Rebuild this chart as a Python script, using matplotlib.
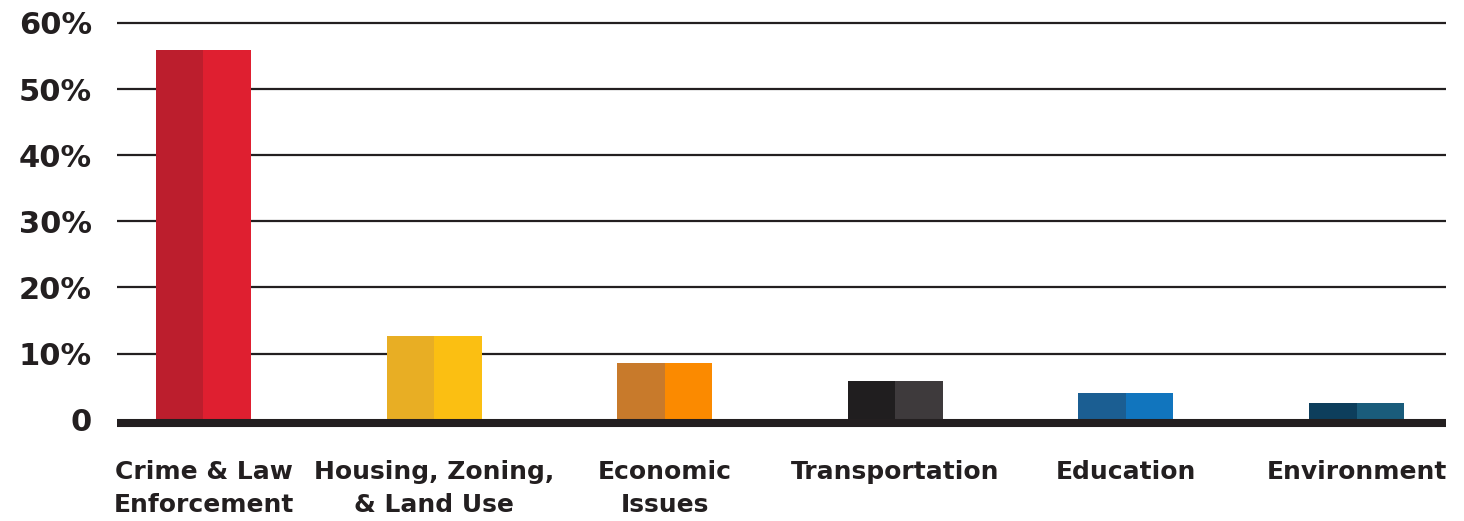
import matplotlib
matplotlib.use("Agg")
import matplotlib.pyplot as plt
import numpy as np

categories = ["Crime & Law\nEnforcement", "Housing, Zoning,\n& Land Use", "Economic\nIssues",
              "Transportation", "Education", "Environment"]
values = [55.9, 12.7, 8.5, 5.9, 4.0, 2.5]
dark_colors = ["#BC1E2D", "#E8AE24", "#C87A2B", "#201E1F", "#1B5E92", "#0D3E5C"]
light_colors = ["#DF1F30", "#FBBF12", "#FB8A00", "#3E3A3C", "#1175BE", "#1A5C7B"]
yticks = [0, 10, 20, 30, 40, 50, 60]
ytick_labels = ["0", "10%", "20%", "30%", "40%", "50%", "60%"]

text_color = "#231F20"
plt.rcParams['font.family'] = ['DejaVu Sans']

fig = plt.figure(figsize=(14.64, 5.21), dpi=100)
ax = fig.add_axes([117/1464, 1-419.6/521, (1446-117)/1464, (419.6-23)/521])

x = np.arange(len(categories))
half = 0.206
ax.bar(x - half/2, values, width=half, color=dark_colors, zorder=2, linewidth=0)
ax.bar(x + half/2, values, width=half, color=light_colors, zorder=2, linewidth=0)

for t in yticks[1:]:
    ax.axhline(t, color=text_color, lw=1.6, zorder=1, clip_on=False, solid_capstyle='butt')
# thick baseline sitting just under zero
ax.axhline(-0.55, color=text_color, lw=5.8, zorder=3, clip_on=False, solid_capstyle='butt')

ax.set_xlim(-0.375, 5.388)
ax.set_ylim(0, 60)
for s in ax.spines.values():
    s.set_visible(False)

ax.set_yticks(yticks)
ax.set_yticklabels(ytick_labels, fontsize=22, fontweight='bold', color=text_color)
ax.tick_params(axis='y', length=0, pad=18)

ax.set_xticks(x)
ax.set_xticklabels(categories, fontsize=18, fontweight='bold', color=text_color,
                   linespacing=1.5, va='top')
ax.tick_params(axis='x', length=0, pad=29)

fig.savefig("out.png", dpi=100)
